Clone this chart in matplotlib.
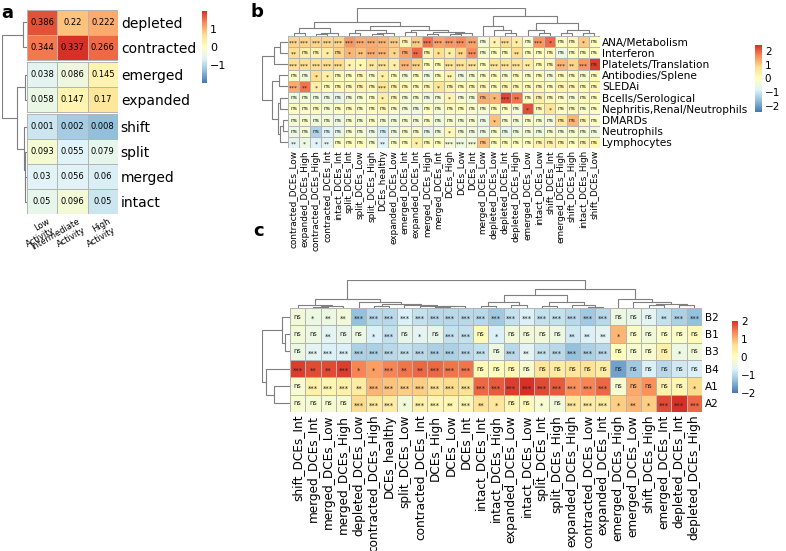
import numpy as np
import matplotlib.pyplot as plt
from matplotlib.colors import LinearSegmentedColormap, Normalize
from matplotlib.cm import ScalarMappable

W, H = 786, 551
GRID = "#b4b4b4"
DCOL = "#7f7f7f"

# pheatmap default palette: rev(brewer.pal(7, "RdYlBu"))
cmap = LinearSegmentedColormap.from_list(
    "rdylbu7", ["#4575B4", "#91BFDB", "#E0F3F8", "#FFFFBF", "#FEE090", "#FC8D59", "#D73027"])

# ---------------- panel a ----------------
a_rows = ["depleted", "contracted", "emerged", "expanded", "shift", "split", "merged", "intact"]
a_cols = ["Low\nActivity", "Intermediate\nActivity", "High\nActivity"]
a_vals = np.array([
    [0.386, 0.22, 0.222],
    [0.344, 0.337, 0.266],
    [0.038, 0.086, 0.145],
    [0.058, 0.147, 0.17],
    [0.001, 0.002, 0.008],
    [0.093, 0.055, 0.079],
    [0.03, 0.056, 0.06],
    [0.05, 0.096, 0.05],
])
a_groups = [2, 2, 4]
a_tree = ((0, 1, 0.15), ((2, 3, 0.08), (4, (5, (6, 7, 0.08), 0.1), 0.13), 0.41), 1.0)

# ---------------- panel b ----------------
b_rows = ["ANA/Metabolism", "Interferon", "Platelets/Translation", "Antibodies/Splene", "SLEDAi",
          "Bcells/Serological", "Nephritis,Renal/Neutrophils", "DMARDs", "Neutrophils", "Lymphocytes"]
b_cols = ["contracted_DCEs_Low", "expanded_DCEs_High", "contracted_DCEs_High", "contracted_DCEs_Int",
          "intact_DCEs_Int", "split_DCEs_Int", "split_DCEs_Low", "split_DCEs_High", "DCEs_healthy",
          "expanded_DCEs_Low", "emerged_DCEs_Int", "expanded_DCEs_Int", "merged_DCEs_High",
          "merged_DCEs_Int", "DCEs_High", "DCEs_Low", "DCEs_Int", "merged_DCEs_Low", "depleted_DCEs_Low",
          "depleted_DCEs_Int", "depleted_DCEs_High", "emerged_DCEs_Low", "intact_DCEs_Low",
          "shift_DCEs_Int", "emerged_DCEs_High", "shift_DCEs_High", "intact_DCEs_High", "shift_DCEs_Low"]
b_vals = np.array([
    [0.9, 0.9, 0.9, 0.9, 0.9, 1.5, 1.3, 1.3, 1.2, 1.0, 0.3, 1.0, 1.8, 1.4, 1.5, 1.6, 1.4, -0.3, 0.3, 0.8, 0.5, -0.1, 1.5, 1.9, 0.1, 0.2, 1.0, 0.0],
    [0.8, 0.4, 0.3, 0.5, 0.9, 1.2, 1.1, 1.3, 1.2, 0.9, 1.4, 1.9, 0.3, 0.8, 0.5, 0.9, 1.6, -0.2, 0.0, 0.1, 0.8, 0.1, 0.0, 0.1, -0.5, 0.0, 0.1, 0.0],
    [0.8, 0.8, 0.8, 0.8, 0.8, 0.3, 0.2, 0.6, 0.7, 0.4, 1.2, 0.9, 0.0, 0.1, 0.7, 0.7, 0.7, 0.0, 0.7, 0.7, 0.7, 0.5, 0.1, 0.2, 1.2, 0.9, 1.5, 2.3],
    [-0.1, -0.4, 0.8, 0.4, 0.1, 0.0, 0.2, -0.1, 0.4, 0.0, -0.3, 0.0, -0.4, 0.0, 0.3, -0.4, -0.2, -0.1, 0.0, -0.2, 0.1, -0.1, 0.0, -0.3, 0.1, 0.0, -0.2, 0.1],
    [1.3, 1.8, 0.4, 0.1, 0.2, 0.2, 0.3, 0.2, 0.7, 0.3, 0.2, 0.1, 0.2, 0.7, 0.3, 0.1, 0.2, 0.2, 0.1, 0.3, 0.2, 0.1, 0.2, 0.0, 0.3, 0.2, 0.1, 0.2],
    [-0.4, -0.3, -0.4, -0.5, -0.6, -0.3, -0.2, 0.0, 0.4, 0.2, -0.3, -0.2, -0.4, -0.3, 0.3, -0.2, -0.3, 1.3, 1.2, 2.2, 1.8, 0.0, 0.4, 0.1, 0.0, -0.2, 0.1, 0.0],
    [0.0, -0.1, 0.1, -0.2, 0.0, 0.1, -0.1, 0.0, 0.2, -0.1, -0.3, -0.4, 0.0, -0.2, 0.1, 0.0, -0.1, -0.2, 0.1, 0.0, -0.3, 2.1, 0.2, 0.7, 0.0, 0.1, -0.1, 0.0],
    [-0.3, -0.2, -0.4, -0.3, -0.5, -0.2, -0.3, -0.1, -0.3, -0.4, -0.2, -0.3, -0.1, -0.4, -0.2, -0.3, -0.2, -0.5, 1.1, -0.2, -0.3, -0.1, -0.2, -0.3, 0.6, 1.2, 0.2, -0.1],
    [-0.5, -0.3, -1.3, -0.8, -0.6, -0.2, -0.3, -0.5, -0.9, -0.4, -0.2, -0.2, -0.6, -0.4, 0.2, -0.3, -0.4, -0.5, -0.2, -0.6, -0.4, -0.3, -0.4, -0.2, -0.3, -0.2, -0.3, -0.4],
    [-0.7, -0.5, -0.8, -0.7, -0.1, 0.1, 0.0, -0.2, -0.8, -0.1, 0.0, 0.4, 0.1, 0.0, -0.3, -0.4, -0.3, 1.1, 0.0, 0.1, 0.0, 0.0, 0.3, 0.4, 0.3, 0.0, 0.3, 0.2],
])
b_stars = [
    "*** *** *** *** *** *** *** *** *** *** ns *** *** *** *** *** *** ns * *** * ns *** * ns ns * ns",
    "** ns ns * ns * ** *** *** * ns ** ns * * ** *** ns ns ns ** ns ns ns ns ns ns ns",
    "*** *** *** *** *** * * ** *** * *** *** ns ns *** *** *** ns *** *** *** ** ns ns *** ** *** ns",
    "ns ns * * ns ns ns ns * ns ns ns ns ns ** ns ns ns ns ns ns ns ns ns ns ns ns ns",
    "*** ** * ns ns ns ns ns *** ns ns ns ns * ns ns ns ns ns ns ns ns ns ns ns ns ns ns",
    "ns ns ns ns ns ns ns ns * ns ns ns ns ns * ns ns ns * *** ** ns ns ns ns ns ns ns",
    "ns ns ns ns ns ns ns ns ns ns ns ns ns ns ns ns ns ns ns ns ns * ns * ns ns ns ns",
    "ns ns ns ns ns ns ns ns ns ns ns ns ns ns ns ns ns ns * ns ns ns ns ns ns ns ns ns",
    "ns ns ns ns ns ns ns ns ns ns ns ns ns ns * ns ns ns ns ns ns ns ns ns ns ns ns ns",
    "** * * ** ns ns ns ns ** ns ns * ns ns *** *** *** ns ns ns ns ns ns ns ns ns ns ns",
]
b_col_tree = ((((0, 1, 0.1), ((2, 3, 0.08), 4, 0.12), 0.3),
               (((5, 6, 0.1), ((7, 8, 0.06), 9, 0.1), 0.2),
                ((10, 11, 0.15), ((12, 13, 0.08), ((14, 15, 0.06), 16, 0.1), 0.14), 0.22), 0.35), 0.5),
              ((17, (18, (19, 20, 0.1), 0.2), 0.35),
               ((21, (22, 23, 0.1), 0.2), ((24, 25, 0.12), (26, 27, 0.1), 0.22), 0.45), 0.73), 1.0)
b_row_tree = (((0, 1, 0.3), 2, 0.55),
              ((3, 4, 0.35), ((5, 6, 0.3), ((7, 8, 0.2), 9, 0.3), 0.4), 0.6), 1.0)

# ---------------- panel c ----------------
c_rows = ["B2", "B1", "B3", "B4", "A1", "A2"]
c_cols = ["shift_DCEs_Int", "merged_DCEs_Int", "merged_DCEs_Low", "merged_DCEs_High", "depleted_DCEs_Low",
          "contracted_DCEs_High", "DCEs_healthy", "split_DCEs_Low", "contracted_DCEs_Int", "DCEs_High",
          "DCEs_Low", "DCEs_Int", "intact_DCEs_Int", "intact_DCEs_High", "expanded_DCEs_Low",
          "intact_DCEs_Low", "split_DCEs_Int", "split_DCEs_High", "expanded_DCEs_High",
          "contracted_DCEs_Low", "expanded_DCEs_Int", "emerged_DCEs_High", "emerged_DCEs_Low",
          "shift_DCEs_High", "emerged_DCEs_Int", "depleted_DCEs_Int", "depleted_DCEs_High"]
c_vals = np.array([
    [-0.3, -0.4, -0.4, -0.3, -1.3, -1.0, -1.0, -0.7, -0.9, -1.0, -1.0, -1.0, -1.0, -1.2, -0.9, -0.7, -0.9, -0.9, -1.0, -1.2, -1.0, -0.4, -0.5, -0.6, -0.9, -1.1, -1.3],
    [-0.3, -0.4, -0.6, -0.5, -0.4, -0.7, -0.9, -0.5, -0.6, -0.5, -0.9, -0.9, 0.1, -0.7, -0.3, -0.3, -0.3, -0.4, -0.8, -0.7, -0.6, 1.0, -0.1, -0.3, -0.1, -0.1, 0.1],
    [-0.4, -0.6, -0.7, -0.7, -1.1, -1.1, -1.0, -0.9, -1.0, -1.1, -1.1, -1.0, -0.9, -0.4, -1.0, -0.6, -0.9, -1.0, -1.3, -1.1, -1.0, 0.0, -0.2, -0.2, 0.3, -0.4, -0.3],
    [1.9, 1.8, 1.8, 1.9, 1.4, 1.2, 1.4, 1.5, 1.6, 1.6, 1.5, 1.5, 0.1, 0.0, 0.2, -0.2, 0.5, 0.4, 0.5, 0.6, 0.4, -1.6, -1.2, -0.7, -1.0, -0.8, -0.7],
    [-0.2, 0.3, 0.2, 0.3, 0.4, 1.0, 0.9, 0.8, 0.8, 0.6, 0.7, 0.6, 1.6, 1.7, 1.9, 2.0, 1.8, 1.7, 1.3, 1.4, 1.6, -0.2, 1.1, 1.3, 0.3, 0.2, 0.7],
    [-0.2, -0.2, -0.2, -0.2, 0.7, 0.4, 0.4, -0.3, 0.3, 0.2, 0.2, 0.2, 0.6, 0.5, 0.2, 0.1, -0.2, -0.3, 0.5, 0.4, 0.4, 0.8, 1.0, 0.8, 1.8, 2.0, 1.6],
])
c_stars = [
    "ns * ** ** *** *** *** *** *** *** *** *** *** *** *** *** *** *** *** *** *** ns ns ns ** *** ***",
    "ns ns ** ns ns * *** ns * ns *** *** ns * ns ns ns ns ** ** ** * ns ns ns ns ns",
    "ns *** *** *** *** *** *** *** *** *** *** *** *** ns *** ** *** *** *** *** *** ns ns ns ns * ns",
    "*** ** ** *** * * *** ** ** *** *** *** ns ns ns ns ns ns ns ns ns ns ns ns ns ns ns",
    "ns *** *** *** ** *** *** *** *** *** *** *** *** *** *** *** *** *** *** *** *** ns ns ns ns ns *",
    "ns ns ns ns *** *** *** * *** *** ** *** ** * ns ns * ns *** *** *** * ** * *** *** ***",
]
c_col_tree = (((0, ((1, 2, 0.05), 3, 0.08), 0.12),
               (4, ((5, 6, 0.06), (7, (8, ((9, 10, 0.04), 11, 0.06), 0.08), 0.1), 0.14), 0.2), 0.32),
              ((((12, 13, 0.08), (14, 15, 0.1), 0.2), ((16, 17, 0.08), (18, (19, 20, 0.05), 0.1), 0.2), 0.45),
               (21, (22, ((23, 24, 0.1), (25, 26, 0.1), 0.15), 0.2), 0.32), 0.68), 1.0)
c_row_tree = ((0, (1, 2, 0.19), 0.27), (3, (4, 5, 0.56), 0.86), 1.0)


def box(x0, y0, x1, y1):
    return [x0 / W, 1 - y1 / H, (x1 - x0) / W, (y1 - y0) / H]


def dendro(ax, tree, pos, orient):
    def rec(node):
        if isinstance(node, int):
            return pos[node], 0.0
        l, r, h = node
        pl, hl = rec(l)
        pr, hr = rec(r)
        if orient == "top":
            ax.plot([pl, pl, pr, pr], [hl, h, h, hr], color=DCOL, lw=0.8)
        else:
            ax.plot([hl, h, h, hr], [pl, pl, pr, pr], color=DCOL, lw=0.8)
        return (pl + pr) / 2, h
    rec(tree)
    ax.axis("off")


def strip(ax):
    for s in ax.spines.values():
        s.set_visible(False)


def annotate(ax, stars, fs):
    for i, row in enumerate(stars):
        for j, s in enumerate(row.split()):
            dy = 0.14 if s.startswith("*") else 0.0
            ax.text(j + 0.5, i + 0.5 + dy, s, ha="center", va="center", fontsize=fs, color="#222222")


def colorbar(fig, rect, norm, ticks, fs):
    cax = fig.add_axes(rect)
    cb = fig.colorbar(ScalarMappable(norm=norm, cmap=cmap), cax=cax, ticks=ticks)
    cb.outline.set_visible(False)
    cax.tick_params(length=0, labelsize=fs, pad=2)


fig = plt.figure(figsize=(W / 100, H / 100), dpi=100)

# ---------- a ----------
z = (a_vals - a_vals.mean(axis=0)) / a_vals.std(axis=0, ddof=1)
m = np.abs(z).max()
norm_a = Normalize(-m, m)
gap = 0.1
ax = fig.add_axes(box(27, 10, 118, 214))
starts = np.cumsum([0] + a_groups)
centers = []
for g in range(len(a_groups)):
    r0, r1 = starts[g], starts[g + 1]
    ys = np.arange(r0, r1 + 1) + g * gap
    ax.pcolormesh(np.arange(4), ys, z[r0:r1], cmap=cmap, norm=norm_a, edgecolors=GRID, linewidth=0.6)
    for i in range(r0, r1):
        yc = i + 0.5 + g * gap
        centers.append(yc)
        for j in range(3):
            ax.text(j + 0.5, yc, f"{a_vals[i, j]:g}", ha="center", va="center", fontsize=6)
ax.set_xlim(0, 3)
ax.set_ylim(8 + gap * 2, 0)
ax.set_xticks(np.arange(3) + 0.65, a_cols, rotation=30, ha="right", rotation_mode="anchor", fontsize=6)
ax.yaxis.tick_right()
ax.set_yticks(centers, a_rows, fontsize=10)
ax.tick_params(length=0, pad=2)
strip(ax)

dax = fig.add_axes(box(2, 10, 27, 214))
dendro(dax, a_tree, centers, "left")
dax.set_xlim(1.0, 0)
dax.set_ylim(8 + gap * 2, 0)
colorbar(fig, box(202, 11, 207, 83), norm_a, [-1, 0, 1], 8)

# ---------- b ----------
norm_b = Normalize(-2.4, 2.4)
nr, nc = b_vals.shape
ax = fig.add_axes(box(288, 36, 600, 148))
ax.pcolormesh(np.arange(nc + 1), np.arange(nr + 1), b_vals, cmap=cmap, norm=norm_b,
              edgecolors=GRID, linewidth=0.5)
annotate(ax, b_stars, 4.3)
ax.set_xlim(0, nc)
ax.set_ylim(nr, 0)
ax.set_xticks(np.arange(nc) + 0.5, b_cols, rotation=90, fontsize=6.4)
ax.yaxis.tick_right()
ax.set_yticks(np.arange(nr) + 0.5, b_rows, fontsize=7.6)
ax.tick_params(length=0, pad=1.5)
strip(ax)

dax = fig.add_axes(box(288, 8, 600, 36))
dendro(dax, b_col_tree, np.arange(nc) + 0.5, "top")
dax.set_xlim(0, nc)
dax.set_ylim(0, 1.0)
dax = fig.add_axes(box(262, 36, 288, 148))
dendro(dax, b_row_tree, np.arange(nr) + 0.5, "left")
dax.set_xlim(1.0, 0)
dax.set_ylim(nr, 0)
colorbar(fig, box(755, 45, 762, 112), norm_b, [-2, -1, 0, 1, 2], 7.5)

# ---------- c ----------
norm_c = Normalize(-2, 2)
nr, nc = c_vals.shape
ax = fig.add_axes(box(290, 308, 702, 412))
ax.pcolormesh(np.arange(nc + 1), np.arange(nr + 1), c_vals, cmap=cmap, norm=norm_c,
              edgecolors=GRID, linewidth=0.6)
annotate(ax, c_stars, 4.8)
ax.set_xlim(0, nc)
ax.set_ylim(nr, 0)
ax.set_xticks(np.arange(nc) + 0.5, c_cols, rotation=90, fontsize=8.7)
ax.yaxis.tick_right()
ax.set_yticks(np.arange(nr) + 0.5, c_rows, fontsize=7.5)
ax.tick_params(length=0, pad=2)
strip(ax)

dax = fig.add_axes(box(290, 280, 702, 308))
dendro(dax, c_col_tree, np.arange(nc) + 0.5, "top")
dax.set_xlim(0, nc)
dax.set_ylim(0, 1.0)
dax = fig.add_axes(box(262, 308, 290, 412))
dendro(dax, c_row_tree, np.arange(nr) + 0.5, "left")
dax.set_xlim(1.0, 0)
dax.set_ylim(nr, 0)
colorbar(fig, box(732, 321, 738, 393), norm_c, [-2, -1, 0, 1, 2], 7.5)

# panel letters
fig.text(1 / W, 1 - 4 / H, "a", fontsize=13, fontweight="bold", va="top")
fig.text(250 / W, 1 - 3 / H, "b", fontsize=13, fontweight="bold", va="top")
fig.text(253 / W, 1 - 222 / H, "c", fontsize=13, fontweight="bold", va="top")

fig.savefig("out.png", dpi=100)
